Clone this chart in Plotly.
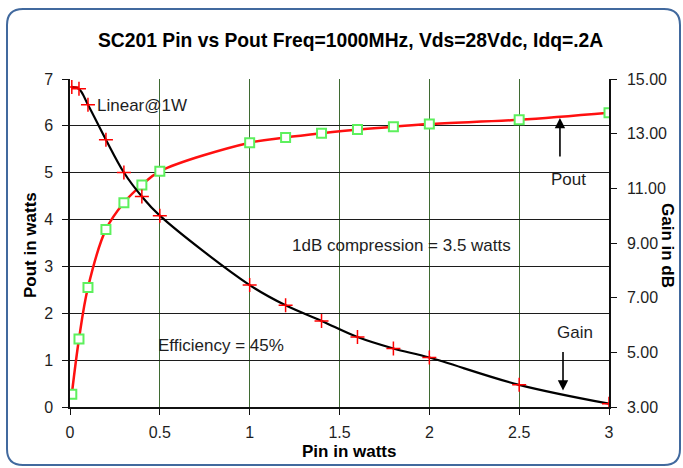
import plotly.graph_objects as go

# ---- data ----
pin_w = [0.01, 0.05, 0.1, 0.2, 0.3, 0.4, 0.5, 1.0, 1.2, 1.4, 1.6, 1.8, 2.0, 2.5, 3.0]
pout_w = [0.27, 1.45, 2.55, 3.79, 4.36, 4.74, 5.03, 5.64, 5.75, 5.84, 5.92, 5.98, 6.04, 6.13, 6.28]
gain_db = [14.71, 14.64, 14.06, 12.78, 11.58, 10.70, 10.0, 7.46, 6.72, 6.15, 5.56, 5.14, 4.81, 3.81, 3.12]

x_ticks = [0, 0.5, 1, 1.5, 2, 2.5, 3]
x_tick_text = ["0", "0.5", "1", "1.5", "2", "2.5", "3"]
y_ticks = [0, 1, 2, 3, 4, 5, 6, 7]
y2_ticks = [3, 5, 7, 9, 11, 13, 15]
y2_tick_text = ["3.00", "5.00", "7.00", "9.00", "11.00", "13.00", "15.00"]

title_text = "SC201 Pin vs Pout Freq=1000MHz, Vds=28Vdc, Idq=.2A"

FONT = "Liberation Sans, Arial, sans-serif"
TXT = "#1e1e1e"

fig = go.Figure()

fig.add_trace(go.Scatter(
    x=pin_w, y=pout_w, mode="lines+markers", name="Pout",
    line=dict(color="#ff1010", width=2.5, shape="spline"),
    marker=dict(symbol="square", size=9, color="white",
                line=dict(color="#5df05d", width=2)),
    yaxis="y", showlegend=False,
))
fig.add_trace(go.Scatter(
    x=pin_w, y=gain_db, mode="lines+markers", name="Gain",
    line=dict(color="black", width=2.2, shape="spline"),
    marker=dict(symbol="cross-thin", size=10,
                line=dict(color="#ff0000", width=1.5)),
    yaxis="y2", showlegend=False,
))

ann = []
def txt(x, y, t, anchor="left"):
    ann.append(dict(x=x, y=y, xref="x", yref="y", text=t, showarrow=False,
                    xanchor=anchor, yanchor="middle",
                    font=dict(family=FONT, size=17, color=TXT)))

txt(0.138, 6.44, "Linear@1W")
txt(1.222, 3.44, "1dB compression = 3.5 watts")
txt(0.48, 1.32, "Efficiency = 45%")
txt(2.665, 4.86, "Pout")
txt(2.70, 1.58, "Gain")

# arrows
ann.append(dict(x=2.727, y=6.17, xref="x", yref="y", text="", showarrow=True,
                ax=0, ay=40, arrowhead=2, arrowsize=1.3, arrowwidth=1.6,
                arrowcolor="black"))
ann.append(dict(x=2.744, y=0.35, xref="x", yref="y", text="", showarrow=True,
                ax=0, ay=-40, arrowhead=2, arrowsize=1.3, arrowwidth=1.6,
                arrowcolor="black"))

# title & axis titles (pixel positions, converted below)
ann.append(dict(x=350, y=40, text="<b>" + title_text + "</b>",
                showarrow=False, font=dict(family=FONT, size=19.3, color="black")))
ann.append(dict(x=30, y=245, text="<b>Pout in watts</b>", showarrow=False, textangle=-90,
                font=dict(family=FONT, size=17, color="black")))
ann.append(dict(x=668, y=245, text="<b>Gain in dB</b>", showarrow=False, textangle=90,
                font=dict(family=FONT, size=17, color="black")))
ann.append(dict(x=349, y=451, text="<b>Pin in watts</b>", showarrow=False,
                font=dict(family=FONT, size=17, color="black")))

L, R, T, B, W, H = 70, 74, 79, 61, 683, 468
pw, ph = W - L - R, H - T - B
for a in ann[-4:]:
    a["xref"] = "paper"
    a["yref"] = "paper"
    a["x"] = (a["x"] - L) / pw
    a["y"] = (H - B - a["y"]) / ph
    a["xanchor"] = "center"
    a["yanchor"] = "middle"

# rounded border (pixel path relative to plot bottom-left)
x0, x1 = 7 - L, 680 - L
ytop, ybot = (H - B) - 9, (H - B) - 465
r = 16
path = (f"M {x0+r},{ytop} L {x1-r},{ytop} Q {x1},{ytop} {x1},{ytop-r} "
        f"L {x1},{ybot+r} Q {x1},{ybot} {x1-r},{ybot} "
        f"L {x0+r},{ybot} Q {x0},{ybot} {x0},{ybot+r} "
        f"L {x0},{ytop-r} Q {x0},{ytop} {x0+r},{ytop} Z")
shapes = [dict(type="path", xref="paper", yref="paper", xsizemode="pixel", ysizemode="pixel",
               xanchor=0, yanchor=0, path=path, line=dict(color="#41699e", width=2),
               layer="below")]

fig.update_layout(
    width=W, height=H,
    margin=dict(l=L, r=R, t=T, b=B),
    paper_bgcolor="white", plot_bgcolor="white",
    font=dict(family=FONT, size=16, color=TXT),
    annotations=ann, shapes=shapes,
    xaxis=dict(range=[0, 3], tickvals=x_ticks, ticktext=x_tick_text,
               showgrid=True, gridcolor="#3f6a33", gridwidth=1,
               showline=True, linecolor="#111", linewidth=1.5,
               ticks="outside", ticklen=6, tickcolor="#111", zeroline=False,
               tickfont=dict(size=16, color=TXT), ticklabelstandoff=4),
    yaxis=dict(range=[0, 7], tickvals=y_ticks, showgrid=True, gridcolor="#1c1c1c", gridwidth=1,
               showline=True, linecolor="#111", linewidth=1.5,
               ticks="outside", ticklen=6, tickcolor="#111", zeroline=False,
               tickfont=dict(size=16, color=TXT), ticklabelstandoff=6),
    yaxis2=dict(range=[3, 15], tickvals=y2_ticks, ticktext=y2_tick_text, overlaying="y",
                side="right", anchor="x", showgrid=False, zeroline=False,
                showline=True, linecolor="#111", linewidth=1.5,
                ticks="outside", ticklen=6, tickcolor="#111",
                tickfont=dict(size=16, color=TXT), ticklabelstandoff=7),
    yaxis3=dict(range=[3, 15], tickvals=y2_ticks, overlaying="y", side="right", anchor="x",
                showgrid=False, zeroline=False, showline=False, showticklabels=False,
                ticks="inside", ticklen=6, tickcolor="#111"),
)

fig.write_html("out.html", config={"displayModeBar": False},
               post_script="document.body.style.margin='0';document.body.style.overflow='hidden';")
